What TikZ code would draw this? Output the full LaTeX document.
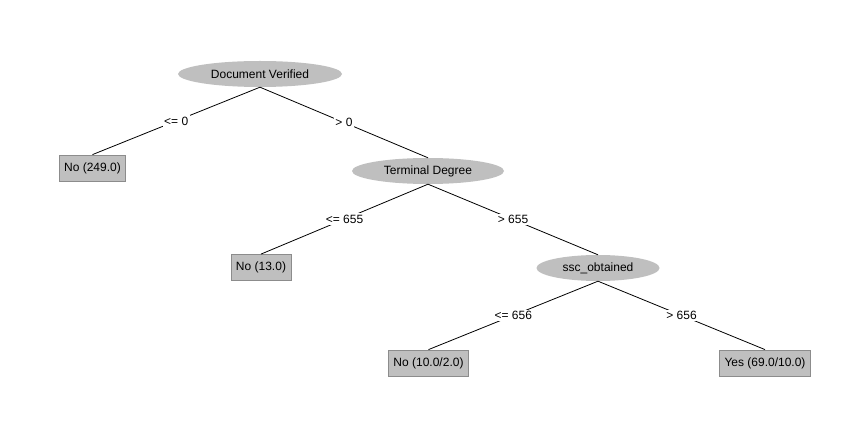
\documentclass[tikz,border=0pt]{standalone}
\usepackage{fontspec}
\setmainfont{Liberation Sans}
\usetikzlibrary{shapes.geometric}
\begin{document}
\begin{tikzpicture}[x=1pt,y=-1pt,
  every node/.style={font=\fontsize{12}{14}\selectfont},
  split/.style={ellipse,fill=black!25,inner sep=0pt,minimum height=26pt},
  leaf/.style={rectangle,fill=black!25,draw=black!45,line width=0.8pt,
    inner xsep=5pt,inner ysep=0pt,minimum height=26pt},
  cond/.style={fill=white,inner sep=1.5pt},
  edge/.style={draw=black,line width=0.8pt}]
\useasboundingbox (0,0) rectangle (862,438);
% decision nodes
\node[split,minimum width=164pt] (dv) at (260,74) {Document Verified};
\node[split,minimum width=152pt] (td) at (428,171) {Terminal Degree};
\node[split,minimum width=123pt] (ss) at (598,268) {ssc\_obtained};
% leaves
\node[leaf] (l1) at (92.5,168) {No (249.0)};
\node[leaf] (l2) at (261,267.5) {No (13.0)};
\node[leaf] (l3) at (428.5,363) {No (10.0/2.0)};
\node[leaf] (l4) at (765,363) {Yes (69.0/10.0)};
% branches with their tests
\draw[edge] (dv.south) -- node[cond] {<= 0} (l1.north);
\draw[edge] (dv.south) -- node[cond] {> 0} (td.north);
\draw[edge] (td.south) -- node[cond] {<= 655} (l2.north);
\draw[edge] (td.south) -- node[cond] {> 655} (ss.north);
\draw[edge] (ss.south) -- node[cond] {<= 656} (l3.north);
\draw[edge] (ss.south) -- node[cond] {> 656} (l4.north);
\end{tikzpicture}
\end{document}
